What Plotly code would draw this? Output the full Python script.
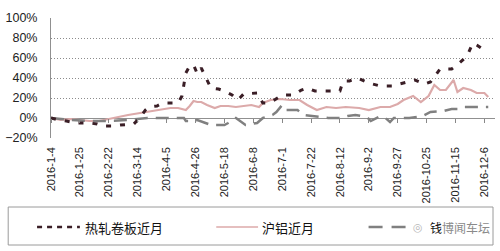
import plotly.graph_objects as go

# ---------------- data (trading-day index, % change) ----------------
tick_labels = ["2016-1-4", "2016-1-25", "2016-2-22", "2016-3-14", "2016-4-5", "2016-4-26",
               "2016-5-18", "2016-6-8", "2016-7-1", "2016-7-22", "2016-8-12", "2016-9-2",
               "2016-9-27", "2016-10-25", "2016-11-15", "2016-12-6"]
tick_index = [0, 15, 30, 45, 60, 75, 90, 105, 120, 135, 150, 165, 180, 195, 210, 225]

hrc_idx = [0, 4, 8, 13, 20, 24, 27, 32, 36, 40, 43, 46, 49, 51, 55, 58, 62, 66, 68, 69,
           70, 72, 74, 76, 78, 80, 81, 83, 87, 90, 94, 97, 100, 104, 107, 109, 110, 113, 116, 120,
           126, 130, 133, 137, 144, 150, 151, 152, 155, 159, 165, 171, 177, 183, 189, 194, 197, 199, 202, 208,
           212, 216, 218, 219, 221, 224, 227]
hrc_val = [0, -2, -3, -5, -5, -6, -8, -8, -7, -6, -6, 0, 8, 11, 12, 15, 15, 15, 22, 33,
           45, 52, 53, 44, 50, 42, 38, 30, 29, 27, 23, 18, 24, 25, 25, 18, 15, 15, 18, 23,
           23, 28, 30, 27, 27, 27, 33, 37, 37, 40, 35, 32, 32, 35, 38, 34, 36, 41, 49, 49,
           55, 62, 70, 75, 73, 69, 68]

al_idx = [0, 5, 10, 15, 20, 25, 31, 35, 40, 46, 50, 55, 60, 62, 66, 70, 72, 74, 76, 78,
          81, 85, 88, 92, 96, 100, 104, 108, 110, 114, 119, 124, 129, 133, 138, 143, 148, 153, 160, 165,
          171, 176, 180, 183, 188, 192, 196, 199, 202, 205, 209, 211, 214, 218, 221, 225, 227]
al_val = [0, -2, -1, -2, -3, -3, -1, 1, 3, 5, 6, 8, 9, 10, 10, 8, 12, 17, 16, 16,
          13, 10, 12, 12, 11, 12, 13, 11, 15, 18, 19, 18, 18, 13, 8, 11, 10, 11, 10, 8,
          11, 11, 14, 18, 22, 16, 22, 33, 28, 28, 38, 26, 30, 28, 25, 25, 21]

third_idx = [0, 10, 20, 30, 40, 50, 60, 69, 70, 73, 76, 80, 83, 90, 92, 96, 99, 101, 107, 110,
             112, 115, 117, 119, 120, 122, 125, 128, 131, 135, 138, 144, 150, 154, 158, 164, 166, 170, 173, 176,
             178, 186, 190, 193, 197, 204, 208, 212, 214, 222, 227]
third_val = [0, -2, -3, -3, -2, 0, 0, 0, -3, -3, -2, -5, -7, -7, -5, 0, -4, -7, -5, 0,
             1, 3, 6, 10, 13, 8, 8, 8, 3, 2, 1, 0, 0, 2, 3, 1, -3, 1, 1, -4,
             0, 0, 1, 2, 6, 7, 9, 9, 11, 11, 11]

series_names = ["热轧卷板近月", "沪铝近月", "钱"]
watermark = "博闻车坛"

# ---------------- layout geometry (pixels) ----------------
W, H = 500, 251
L, R, T, B = 49, 495, 18, 138
x_max = 230.5
y_min, y_max = -20, 100

DARK = "#3a1e26"
PINK = "#dcaaaa"
GRAY = "#808080"

fig = go.Figure()
fig.add_trace(go.Scatter(x=al_idx, y=al_val, mode="lines", name=series_names[1],
                         line=dict(color=PINK, width=2.2), showlegend=False, hoverinfo="skip"))
fig.add_trace(go.Scatter(x=third_idx, y=third_val, mode="lines", name=series_names[2],
                         line=dict(color=GRAY, width=2.5, dash="13px,8px"), showlegend=False, hoverinfo="skip"))
fig.add_trace(go.Scatter(x=hrc_idx, y=hrc_val, mode="lines", name=series_names[0],
                         line=dict(color=DARK, width=3, dash="5px,9px"), showlegend=False, hoverinfo="skip"))
# dummy trace for the zero-line axis carrying tick marks
fig.add_trace(go.Scatter(x=[None], y=[None], xaxis="x2", mode="lines", showlegend=False, hoverinfo="skip"))


def px_x(p):
    return (p - L) / (R - L)


def px_y(p):
    return (B - p) / (B - T)


shapes = []
annotations = []
# legend box
shapes.append(dict(type="rect", xref="paper", yref="paper",
                   x0=px_x(6), x1=px_x(493), y0=px_y(207), y1=px_y(245),
                   line=dict(color="#9a9a9a", width=1), fillcolor="rgba(0,0,0,0)"))
leg_y = px_y(227)
leg_items = [
    (35, 78, DARK, 2.5, "5px,5px", 81, series_names[0], 13),
    (215, 257, PINK, 1.5, "solid", 259, series_names[1], 13),
    (368, 406, GRAY, 2.5, "14px,9px", 428,
     series_names[2] + "<span style='color:#8a8a8a'>" + watermark + "</span>", 12),
]
for x0, x1, col, w, dash, tx, name, fs in leg_items:
    shapes.append(dict(type="line", xref="paper", yref="paper", x0=px_x(x0), x1=px_x(x1),
                       y0=leg_y, y1=leg_y, line=dict(color=col, width=w, dash=dash)))
    annotations.append(dict(xref="paper", yref="paper", x=px_x(tx), y=leg_y, text=name,
                            showarrow=False, xanchor="left", yanchor="middle",
                            font=dict(family="Noto Sans CJK SC", size=fs, color="#111111")))
annotations.append(dict(xref="paper", yref="paper", x=px_x(411), y=leg_y, text="◎",
                        showarrow=False, xanchor="left", yanchor="middle",
                        font=dict(family="DejaVu Sans", size=11, color="#b8b8b8")))

fig.update_layout(
    width=W, height=H,
    margin=dict(l=L, r=W - R, t=T, b=H - B, pad=0),
    paper_bgcolor="white", plot_bgcolor="white",
    showlegend=False,
    font=dict(family="Liberation Sans, Arial", color="#222222"),
    xaxis=dict(range=[0, x_max], tickmode="array", tickvals=tick_index, ticktext=tick_labels,
               tickangle=-90, tickfont=dict(size=11, color="#222222"), showgrid=False,
               zeroline=False, showline=False, ticks="", ticklabelstandoff=6),
    xaxis2=dict(range=[0, x_max], overlaying="x", anchor="free",
                position=(0 - y_min) / (y_max - y_min), side="bottom",
                tickmode="array", tickvals=tick_index, showticklabels=False,
                ticks="outside", ticklen=4, tickcolor="#888888", tickwidth=1,
                showline=False, showgrid=False, zeroline=False),
    yaxis=dict(range=[y_min, y_max], dtick=20, tick0=0, ticksuffix="%",
               tickfont=dict(size=12.5, color="#222222"), showgrid=True,
               gridcolor="#8c8c8c", griddash="1px,2px", gridwidth=1,
               zeroline=True, zerolinecolor="#909090", zerolinewidth=1,
               showline=True, linecolor="#909090", linewidth=1, ticks="",
               ticklabelstandoff=10),
    shapes=shapes,
    annotations=annotations,
)

fig.write_html("out.html")
